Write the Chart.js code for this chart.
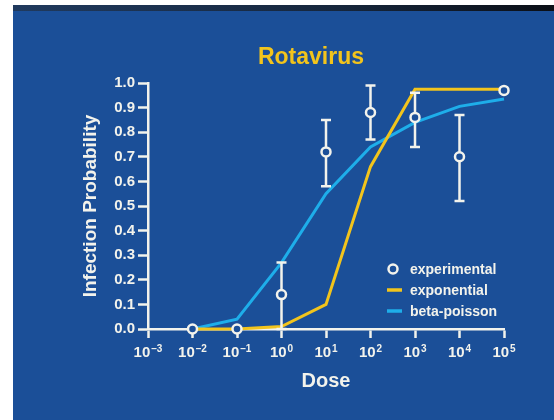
<!DOCTYPE html>
<html>
<head>
<meta charset="utf-8">
<script src="https://cdn.jsdelivr.net/npm/chart.js@4.4.1/dist/chart.umd.min.js"></script>
<style>
  html, body { margin: 0; padding: 0; background: #ffffff; width: 554px; height: 420px; overflow: hidden; }
  #strip { position: absolute; left: 13px; top: 5px; width: 541px; height: 6px;
           background: linear-gradient(to right, #203a5e, #16263c 60%, #0b0f16); }
  #wrap { position: absolute; left: 13px; top: 11px; width: 541px; height: 409px;
          background: #1b4f98; }
  canvas { display: block; }
</style>
</head>
<body>
<div id="strip"></div>
<div id="wrap"><canvas id="c" width="541" height="409"></canvas></div>
<script>
// ---- data ----
const titleText = 'Rotavirus';
const xTitle = 'Dose';
const yTitle = 'Infection Probability';
const xExponents = [-3, -2, -1, 0, 1, 2, 3, 4, 5];
const xTickBase = '10';
const xTickSup = ['-3', '-2', '-1', '0', '1', '2', '3', '4', '5'];
const doses = [1e-2, 1e-1, 1e0, 1e1, 1e2, 1e3, 1e4, 1e5];
const experimental = [0.0, 0.0, 0.14, 0.72, 0.88, 0.86, 0.70, 0.97];
const errLow  = [null, null, 0.0, 0.58, 0.77, 0.74, 0.52, null];
const errHigh = [null, null, 0.27, 0.85, 0.99, 0.96, 0.87, null];
const exponential = [0.0, 0.0, 0.01, 0.10, 0.66, 0.975, 0.975, 0.975];
const betaPoisson = [0.0, 0.04, 0.27, 0.55, 0.74, 0.84, 0.905, 0.935];
const seriesLabels = ['experimental', 'exponential', 'beta-poisson'];

// ---- styles ----
const FONT = '"Liberation Sans", Arial, Helvetica, sans-serif';
const WHITE = '#f3f3ec';
const BLUE = '#1b4f98';
const YELLOW = '#f2c41c';
const CYAN = '#1eaeea';

const pts = (ys) => doses.map((d, i) => ({ x: d, y: ys[i] }));

const errorBars = {
  id: 'errorBars',
  beforeDatasetDraw(chart, args) {
    if (args.index !== 0) return;
    const { ctx, scales: { x, y } } = chart;
    ctx.save();
    ctx.strokeStyle = WHITE;
    ctx.lineWidth = 2.5;
    doses.forEach((d, i) => {
      if (errLow[i] == null) return;
      const px = x.getPixelForValue(d);
      const top = y.getPixelForValue(errHigh[i]);
      const bot = y.getPixelForValue(errLow[i]);
      ctx.beginPath();
      ctx.moveTo(px, top); ctx.lineTo(px, bot);
      ctx.moveTo(px - 5, top); ctx.lineTo(px + 5, top);
      ctx.moveTo(px - 5, bot); ctx.lineTo(px + 5, bot);
      ctx.stroke();
    });
    ctx.restore();
  }
};

const extras = {
  id: 'extras',
  afterDraw(chart) {
    const { ctx } = chart;
    const ds = chart.data.datasets;
    const xs = chart.scales.x;
    ctx.save();
    // title
    ctx.fillStyle = YELLOW;
    ctx.font = 'bold 23px ' + FONT;
    ctx.textAlign = 'center';
    ctx.textBaseline = 'middle';
    ctx.fillText(titleText, 298, 47);
    // x tick labels with superscript exponents
    ctx.fillStyle = WHITE;
    ctx.textAlign = 'left';
    ctx.textBaseline = 'alphabetic';
    const baseY = chart.chartArea.bottom + 28;
    xExponents.forEach((e, i) => {
      const px = xs.getPixelForValue(Math.pow(10, e));
      ctx.font = 'bold 15px ' + FONT;
      const wb = ctx.measureText(xTickBase).width;
      ctx.font = 'bold 10px ' + FONT;
      const sup = xTickSup[i].replace('-', '\u2013');
      const ws = ctx.measureText(sup).width;
      const x0 = px - (wb + 1 + ws) / 2;
      ctx.font = 'bold 15px ' + FONT;
      ctx.fillText(xTickBase, x0, baseY);
      ctx.font = 'bold 10px ' + FONT;
      ctx.fillText(sup, x0 + wb + 1, baseY - 5);
    });
    // legend
    ctx.font = 'bold 14px ' + FONT;
    ctx.textAlign = 'left';
    ctx.textBaseline = 'middle';
    const rows = [258, 279, 300];
    ctx.beginPath();
    ctx.arc(380, rows[0], 4.5, 0, Math.PI * 2);
    ctx.fillStyle = BLUE; ctx.fill();
    ctx.strokeStyle = WHITE; ctx.lineWidth = 2.5; ctx.stroke();
    [[1, YELLOW], [2, CYAN]].forEach(([k, col]) => {
      ctx.beginPath();
      ctx.moveTo(374, rows[k]); ctx.lineTo(389, rows[k]);
      ctx.strokeStyle = col; ctx.lineWidth = 3.5; ctx.stroke();
    });
    ctx.fillStyle = WHITE;
    ds.forEach((d, k) => ctx.fillText(d.label, 397, rows[k] + 1));
    ctx.restore();
  }
};

new Chart(document.getElementById('c'), {
  type: 'scatter',
  data: {
    datasets: [
      {
        label: seriesLabels[0], data: pts(experimental), showLine: false,
        pointRadius: 4.5, pointBorderWidth: 2.5, pointBorderColor: WHITE,
        pointBackgroundColor: BLUE, clip: false
      },
      {
        label: seriesLabels[1], data: pts(exponential), showLine: true,
        borderColor: YELLOW, borderWidth: 3, pointRadius: 0, tension: 0, clip: false
      },
      {
        label: seriesLabels[2], data: pts(betaPoisson), showLine: true,
        borderColor: CYAN, borderWidth: 3, pointRadius: 0, tension: 0, clip: false
      }
    ]
  },
  options: {
    responsive: false,
    animation: false,
    devicePixelRatio: 1,
    layout: { padding: { top: 72, right: 50, bottom: 0, left: 0 } },
    plugins: { legend: { display: false }, tooltip: { enabled: false }, title: { display: false } },
    scales: {
      x: {
        type: 'logarithmic', min: 1e-3, max: 1e5,
        afterBuildTicks(scale) { scale.ticks = xExponents.map(e => ({ value: Math.pow(10, e) })); },
        afterFit(scale) { scale.height = 91; },
        ticks: { display: false },
        grid: { drawOnChartArea: false, drawTicks: true, tickLength: 9, tickColor: WHITE, tickWidth: 2.5 },
        border: { display: true, color: WHITE, width: 2.5 },
        title: { display: true, text: xTitle, color: WHITE, font: { family: FONT, size: 20, weight: 'bold' }, padding: { top: 0, bottom: 27 } }
      },
      y: {
        min: 0, max: 1,
        afterFit(scale) { scale.width = 135; },
        ticks: {
          stepSize: 0.1, color: WHITE, font: { family: FONT, size: 15, weight: 'bold' }, padding: 3,
          callback: (v) => v.toFixed(1)
        },
        grid: { drawOnChartArea: false, drawTicks: true, tickLength: 10, tickColor: WHITE, tickWidth: 2.5 },
        border: { display: true, color: WHITE, width: 2.5 },
        title: { display: true, text: yTitle, color: WHITE, font: { family: FONT, size: 19, weight: 'bold' }, padding: { top: 66, bottom: 0 } }
      }
    }
  },
  plugins: [errorBars, extras]
});
</script>
</body>
</html>
